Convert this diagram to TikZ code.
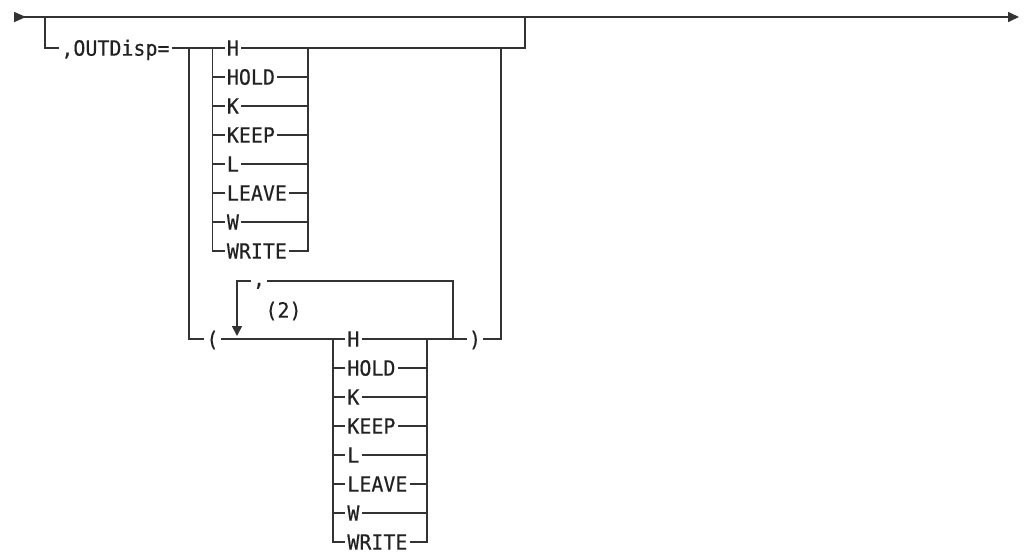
\documentclass[tikz,border=0pt]{standalone}
\usepackage{fontspec}
\setmonofont[FakeStretch=0.95, FakeBold=0.4]{DejaVu Sans Mono}
\usepackage{tikz}
\usetikzlibrary{arrows.meta, positioning, calc}
\definecolor{cLine}{HTML}{333333}
\definecolor{cText}{HTML}{222222}
\tikzstyle{rail}     = [line width=0.8pt, draw=cLine]
\tikzstyle{kw}       = [font=\ttfamily\fontsize{10.5}{12}\selectfont, text=cText, inner xsep=1pt, inner ysep=0pt, text height=7.65pt, text depth=0pt]
\tikzstyle{opt}      = [kw, anchor=west]
\tikzstyle{sepkw}    = [kw, text height=5pt]
\tikzstyle{mainline} = [rail, {Triangle[reversed, length=6pt, width=5pt]}-{Triangle[length=5.5pt, width=5pt]}]
\tikzstyle{repeat}   = [rail, -{Triangle[length=5pt, width=5pt]}]

\begin{document}
\begin{tikzpicture}[x=0.5pt, y=-0.5pt]
\useasboundingbox (0,0) rectangle (1024,552);

% main line and the optional branch
\coordinate (mainL) at (14,17);
\coordinate (mainR) at (1019,17);
\coordinate (brL) at (45,17);
\coordinate (brR) at (525,17);
\coordinate (lvA) at (189,48);
\coordinate (rvA) at (501,48);
\coordinate (lvB) at (212.5,48);
\coordinate (rvB) at (308,48);
\coordinate (lvC) at (333,339);
\coordinate (rvC) at (427,339);
\coordinate (loopR) at (453,339);
\coordinate (loopB) at (237,336);

\node (outdisp) [opt] at (59,48) {,OUTDisp=};

% single value
\node (h1)     [opt] at (224.5,48)  {H};
\node (hold1)  [opt] at (224.5,77)  {HOLD};
\node (k1)     [opt] at (224.5,106) {K};
\node (keep1)  [opt] at (224.5,135) {KEEP};
\node (l1)     [opt] at (224.5,164) {L};
\node (leave1) [opt] at (224.5,193) {LEAVE};
\node (w1)     [opt] at (224.5,222) {W};
\node (write1) [opt] at (224.5,251) {WRITE};

% list of values
\node (lpar) [kw] at (212.5,339) {(};
\node (rpar) [kw] at (475,339) {)};
\node (sep)  [sepkw] at (259,281) {,};
\node (fn)   [kw] at (283.5,310) {(2)};
\node (h2)     [opt] at (345,339) {H};
\node (hold2)  [opt] at (345,368) {HOLD};
\node (k2)     [opt] at (345,397) {K};
\node (keep2)  [opt] at (345,426) {KEEP};
\node (l2)     [opt] at (345,455) {L};
\node (leave2) [opt] at (345,484) {LEAVE};
\node (w2)     [opt] at (345,513) {W};
\node (write2) [opt] at (345,542) {WRITE};

\draw [mainline] (mainL) -- (mainR);
\draw [rail] (brL) |- (outdisp);
\draw [rail] (outdisp) -- (h1);
\draw [rail] (h1) -| (brR);
\draw [rail] (lvA) |- (lpar);
\draw [rail] (rpar) -| (rvA);

\draw [rail] (lvB) |- (write1);
\draw [rail] (write1) -| (rvB);
\draw [rail] (hold1 -| lvB) -- (hold1);   \draw [rail] (hold1) -- (hold1 -| rvB);
\draw [rail] (k1 -| lvB) -- (k1);         \draw [rail] (k1) -- (k1 -| rvB);
\draw [rail] (keep1 -| lvB) -- (keep1);   \draw [rail] (keep1) -- (keep1 -| rvB);
\draw [rail] (l1 -| lvB) -- (l1);         \draw [rail] (l1) -- (l1 -| rvB);
\draw [rail] (leave1 -| lvB) -- (leave1); \draw [rail] (leave1) -- (leave1 -| rvB);
\draw [rail] (w1 -| lvB) -- (w1);         \draw [rail] (w1) -- (w1 -| rvB);

\draw [rail] (lpar) -- (h2);
\draw [rail] (h2) -- (rpar);
\draw [rail] (lvC) |- (write2);
\draw [rail] (write2) -| (rvC);
\draw [rail] (hold2 -| lvC) -- (hold2);   \draw [rail] (hold2) -- (hold2 -| rvC);
\draw [rail] (k2 -| lvC) -- (k2);         \draw [rail] (k2) -- (k2 -| rvC);
\draw [rail] (keep2 -| lvC) -- (keep2);   \draw [rail] (keep2) -- (keep2 -| rvC);
\draw [rail] (l2 -| lvC) -- (l2);         \draw [rail] (l2) -- (l2 -| rvC);
\draw [rail] (leave2 -| lvC) -- (leave2); \draw [rail] (leave2) -- (leave2 -| rvC);
\draw [rail] (w2 -| lvC) -- (w2);         \draw [rail] (w2) -- (w2 -| rvC);

% repeat loop
\draw [rail] (loopR) |- (sep);
\draw [repeat] (sep) -| (loopB);
\end{tikzpicture}
\end{document}
